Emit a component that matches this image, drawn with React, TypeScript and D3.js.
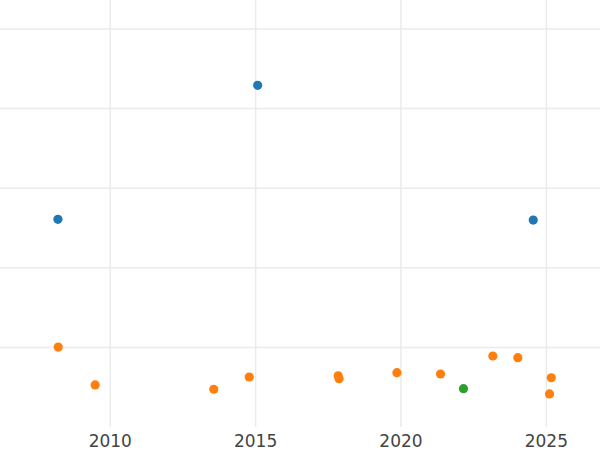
import React from "react";
import * as d3 from "d3";

const blueX = [2008.2, 2015.07, 2024.55];
const blueY = [2.609, 4.293, 2.6];
const orangeX = [2008.21, 2009.48, 2013.56, 2014.78, 2017.84, 2017.87, 2019.86, 2021.36, 2023.16, 2024.02, 2025.17, 2025.11];
const orangeY = [1.004, 0.528, 0.474, 0.628, 0.644, 0.607, 0.682, 0.666, 0.892, 0.871, 0.619, 0.415];
const greenX = [2022.15];
const greenY = [0.481];
const xTicks = [2010, 2015, 2020, 2025];
const yGrid = [1, 2, 3, 4, 5];

const W = 600;
const H = 450;
const plotBottom = 427;

export default function App() {
  const x = d3.scaleLinear().domain([2006.207, 2026.846]).range([0, W]);
  const y = d3.scaleLinear().domain([0, 5.3643]).range([plotBottom, 0]);
  const series = [
    { xs: blueX, ys: blueY, color: "#1f77b4" },
    { xs: orangeX, ys: orangeY, color: "#ff7f0e" },
    { xs: greenX, ys: greenY, color: "#2ca02c" },
  ];
  return (
    <svg
      width={W}
      height={H}
      style={{ position: "fixed", left: 0, top: 0, background: "#fff" }}
      fontFamily="DejaVu Sans"
    >
      <rect x={0} y={0} width={W} height={H} fill="#fff" />
      {yGrid.map((v) => (
        <line key={"h" + v} x1={0} x2={W} y1={y(v)} y2={y(v)} stroke="#ebebeb" strokeWidth={1.5} />
      ))}
      {xTicks.map((t) => (
        <line key={"v" + t} x1={x(t)} x2={x(t)} y1={0} y2={plotBottom} stroke="#ebebeb" strokeWidth={1.5} />
      ))}
      {series.map((s, si) =>
        s.xs.map((xv, i) => (
          <circle key={si + "-" + i} cx={x(xv)} cy={y(s.ys[i])} r={4.6} fill={s.color} />
        ))
      )}
      {xTicks.map((t) => (
        <text key={"t" + t} x={x(t)} y={447} textAnchor="middle" fontSize={17} fill="#444">
          {t}
        </text>
      ))}
    </svg>
  );
}
